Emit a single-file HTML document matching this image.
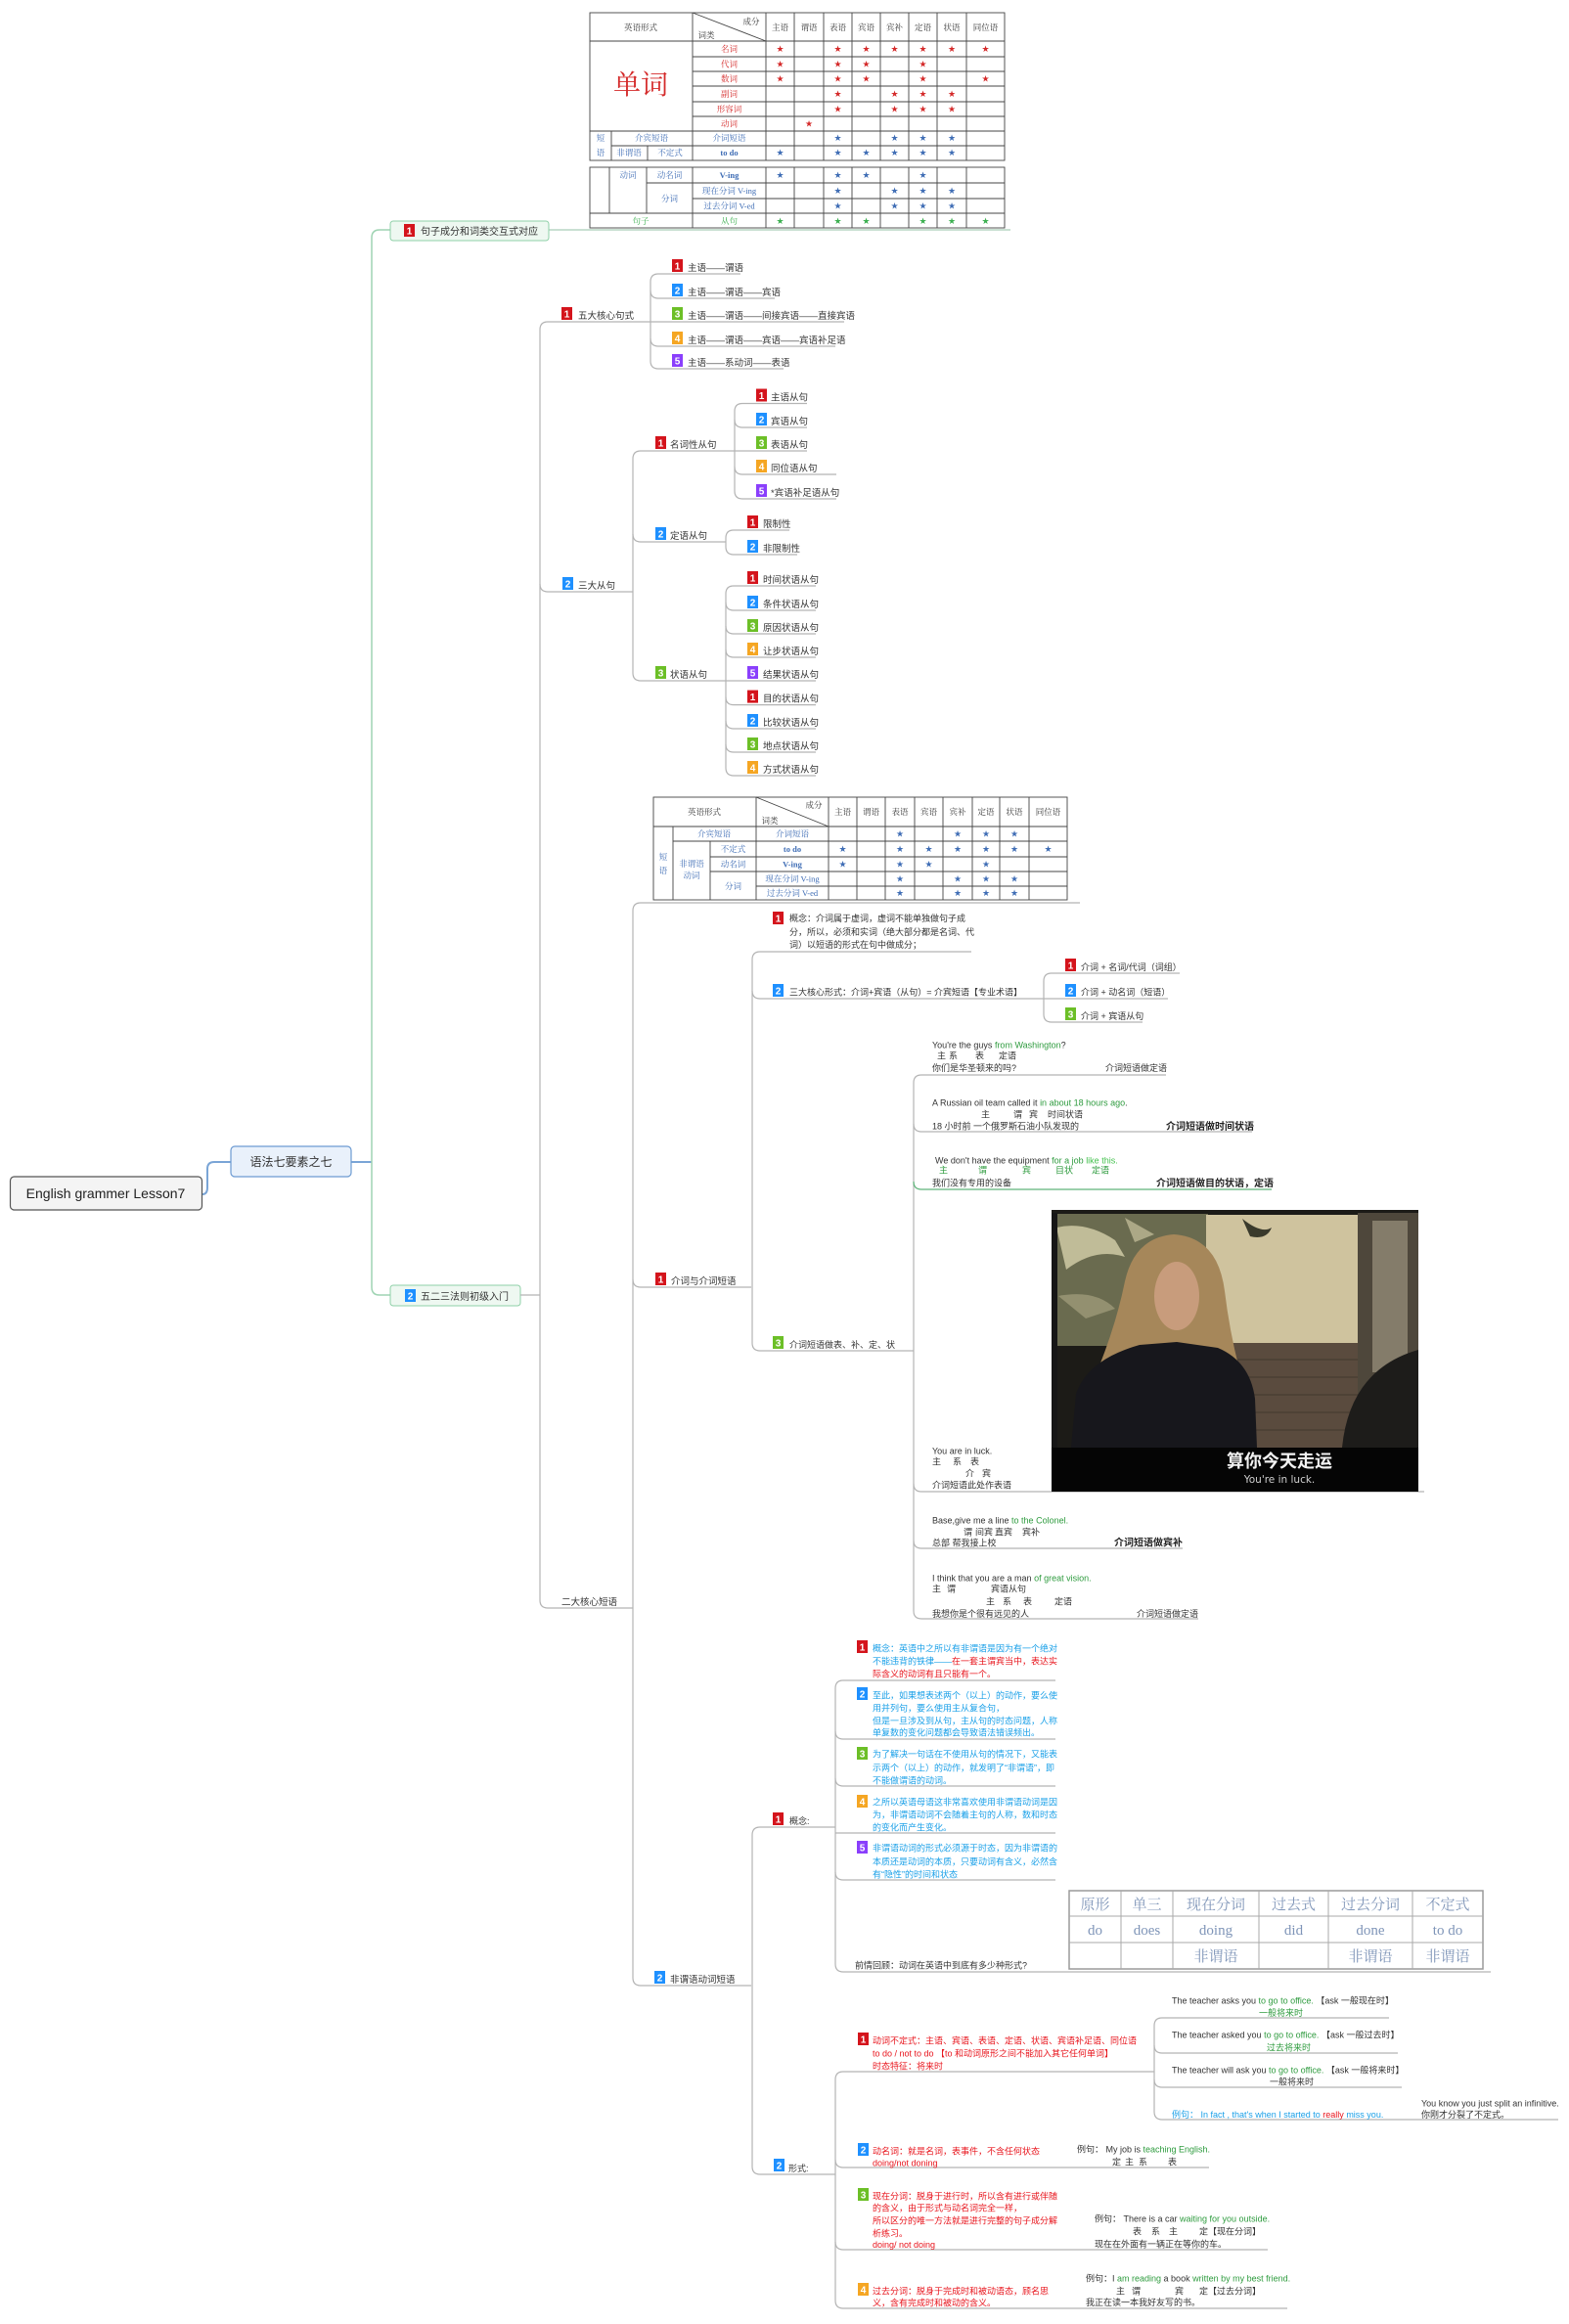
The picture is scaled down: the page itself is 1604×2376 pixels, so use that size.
<!DOCTYPE html>
<html><head><meta charset="utf-8"><style>
body{margin:0;background:#fff}
svg{display:block}
.t{font-family:"Liberation Sans","Noto Sans CJK SC",sans-serif;font-size:9.5px;fill:#333}
.s{font-family:"Liberation Sans","Noto Sans CJK SC",sans-serif;font-size:9px;fill:#333}
.b{font-family:"Liberation Sans","Noto Sans CJK SC",sans-serif;font-size:10px;font-weight:bold;fill:#222}
.bn{font-family:"Liberation Sans",sans-serif;font-size:10px;font-weight:bold;fill:#fff;text-anchor:middle}
.g{fill:#2e9b3e}.r{fill:#e8141c}.c{fill:#1aa0e8}.k{fill:#333}
.tb{font-family:"Liberation Serif","Noto Serif CJK SC",serif;font-size:8.5px;text-anchor:middle;fill:#333}
.tr{fill:#d42a2a}.tbl{fill:#3f6db5}.tg{fill:#3cb050}
.st{font-family:"DejaVu Sans",sans-serif;font-size:9px;text-anchor:middle}
.vf{font-family:"Liberation Serif","Noto Serif CJK SC",serif;font-size:15px;fill:#7f95b8;text-anchor:middle}
.ln{fill:none;stroke:#b4b4b4;stroke-width:1.2}
.gl{fill:none;stroke:#9fd4b3;stroke-width:1.5}
.grid{stroke:#444;stroke-width:0.9}
</style></head><body>
<svg width="1604" height="2376" viewBox="0 0 1604 2376" xmlns="http://www.w3.org/2000/svg">
<rect width="1604" height="2376" fill="#fff"/>

<!-- ================= TABLE 1 ================= -->
<g>
<rect x="603" y="13" width="424" height="151" fill="none" class="grid" stroke-width="1.4"/>
<g class="grid">
<line x1="708" y1="13" x2="708" y2="164"/><line x1="783" y1="13" x2="783" y2="164"/>
<line x1="812" y1="13" x2="812" y2="164"/><line x1="842" y1="13" x2="842" y2="164"/>
<line x1="871" y1="13" x2="871" y2="164"/><line x1="900" y1="13" x2="900" y2="164"/>
<line x1="929" y1="13" x2="929" y2="164"/><line x1="958" y1="13" x2="958" y2="164"/>
<line x1="988" y1="13" x2="988" y2="164"/>
<line x1="625" y1="134" x2="625" y2="164"/><line x1="662" y1="149" x2="662" y2="164"/>
<line x1="603" y1="42" x2="1027" y2="42"/>
<line x1="708" y1="58" x2="1027" y2="58"/><line x1="708" y1="73" x2="1027" y2="73"/>
<line x1="708" y1="88" x2="1027" y2="88"/><line x1="708" y1="104" x2="1027" y2="104"/>
<line x1="708" y1="119" x2="1027" y2="119"/>
<line x1="603" y1="134" x2="1027" y2="134"/><line x1="625" y1="149" x2="1027" y2="149"/>
<line x1="708" y1="13" x2="783" y2="42"/>
</g>
<text class="tb" x="655" y="31">英语形式</text>
<text class="tb" x="768" y="25">成分</text><text class="tb" x="722" y="39">词类</text>
<text class="tb" x="797.5" y="31">主语</text><text class="tb" x="827" y="31">谓语</text><text class="tb" x="856.5" y="31">表语</text><text class="tb" x="885.5" y="31">宾语</text><text class="tb" x="914.5" y="31">宾补</text><text class="tb" x="943.5" y="31">定语</text><text class="tb" x="973" y="31">状语</text><text class="tb" x="1007.5" y="31">同位语</text>
<text x="655" y="96" font-family="Liberation Serif,Noto Serif CJK SC,serif" font-size="28" fill="#d42a2a" text-anchor="middle">单词</text>
<text class="tb tr" x="745.5" y="53">名词</text><text class="tb tr" x="745.5" y="68.5">代词</text><text class="tb tr" x="745.5" y="83.5">数词</text><text class="tb tr" x="745.5" y="99">副词</text><text class="tb tr" x="745.5" y="114.5">形容词</text><text class="tb tr" x="745.5" y="129.5">动词</text>
<text class="tb tbl" x="614" y="144">短</text><text class="tb tbl" x="614" y="159">语</text>
<text class="tb tbl" x="666" y="144">介宾短语</text><text class="tb tbl" x="745.5" y="144">介词短语</text>
<text class="tb tbl" x="643" y="159">非谓语</text><text class="tb tbl" x="685" y="159">不定式</text><text class="tb tbl" x="745.5" y="159" font-weight="bold">to do</text>
<g class="st" fill="#d42a2a">
<text x="797.5" y="53">★</text><text x="856.5" y="53">★</text><text x="885.5" y="53">★</text><text x="914.5" y="53">★</text><text x="943.5" y="53">★</text><text x="973" y="53">★</text><text x="1007.5" y="53">★</text>
<text x="797.5" y="68.5">★</text><text x="856.5" y="68.5">★</text><text x="885.5" y="68.5">★</text><text x="943.5" y="68.5">★</text>
<text x="797.5" y="83.5">★</text><text x="856.5" y="83.5">★</text><text x="885.5" y="83.5">★</text><text x="943.5" y="83.5">★</text><text x="1007.5" y="83.5">★</text>
<text x="856.5" y="99">★</text><text x="914.5" y="99">★</text><text x="943.5" y="99">★</text><text x="973" y="99">★</text>
<text x="856.5" y="114.5">★</text><text x="914.5" y="114.5">★</text><text x="943.5" y="114.5">★</text><text x="973" y="114.5">★</text>
<text x="827" y="129.5">★</text>
</g>
<g class="st" fill="#3f6db5">
<text x="856.5" y="144">★</text><text x="914.5" y="144">★</text><text x="943.5" y="144">★</text><text x="973" y="144">★</text>
<text x="797.5" y="159">★</text><text x="856.5" y="159">★</text><text x="885.5" y="159">★</text><text x="914.5" y="159">★</text><text x="943.5" y="159">★</text><text x="973" y="159">★</text>
</g>
<!-- table 1b -->
<rect x="603" y="171" width="424" height="62" fill="none" class="grid" stroke-width="1.4"/>
<g class="grid">
<line x1="623" y1="171" x2="623" y2="218"/><line x1="661" y1="171" x2="661" y2="218"/>
<line x1="708" y1="171" x2="708" y2="233"/><line x1="783" y1="171" x2="783" y2="233"/>
<line x1="812" y1="171" x2="812" y2="233"/><line x1="842" y1="171" x2="842" y2="233"/>
<line x1="871" y1="171" x2="871" y2="233"/><line x1="900" y1="171" x2="900" y2="233"/>
<line x1="929" y1="171" x2="929" y2="233"/><line x1="958" y1="171" x2="958" y2="233"/>
<line x1="988" y1="171" x2="988" y2="233"/>
<line x1="661" y1="187" x2="1027" y2="187"/><line x1="708" y1="203" x2="1027" y2="203"/>
<line x1="603" y1="218" x2="1027" y2="218"/>
</g>
<text class="tb tbl" x="642" y="182">动词</text><text class="tb tbl" x="684.5" y="182">动名词</text>
<text class="tb tbl" x="684.5" y="206">分词</text>
<text class="tb tbl" x="745.5" y="182" font-weight="bold">V-ing</text>
<text class="tb tbl" x="745.5" y="198">现在分词 V-ing</text>
<text class="tb tbl" x="745.5" y="213.5">过去分词 V-ed</text>
<text class="tb tg" x="655" y="229">句子</text><text class="tb tg" x="745.5" y="229">从句</text>
<g class="st" fill="#3f6db5">
<text x="797.5" y="182">★</text><text x="856.5" y="182">★</text><text x="885.5" y="182">★</text><text x="943.5" y="182">★</text>
<text x="856.5" y="198">★</text><text x="914.5" y="198">★</text><text x="943.5" y="198">★</text><text x="973" y="198">★</text>
<text x="856.5" y="213.5">★</text><text x="914.5" y="213.5">★</text><text x="943.5" y="213.5">★</text><text x="973" y="213.5">★</text>
</g>
<g class="st" fill="#3cb050">
<text x="797.5" y="229">★</text><text x="856.5" y="229">★</text><text x="885.5" y="229">★</text><text x="943.5" y="229">★</text><text x="973" y="229">★</text><text x="1007.5" y="229">★</text>
</g>
</g>

<!-- ================= ROOT / LEVEL 1 ================= -->
<path d="M207,1221 Q212,1221 212,1214 L212,1195 Q212,1188 219,1188 L236,1188" fill="none" stroke="#7aa5d6" stroke-width="2"/>
<line x1="359" y1="1188" x2="380" y2="1188" stroke="#7aa5d6" stroke-width="2"/>
<rect x="10.5" y="1203" width="196" height="34" rx="4" fill="#f4f4f4" stroke="#555" stroke-width="1.2"/>
<text x="108" y="1225" font-family="Liberation Sans,sans-serif" font-size="14" fill="#222" text-anchor="middle">English grammer Lesson7</text>
<rect x="236" y="1172" width="123" height="31" rx="4" fill="#e9f1fb" stroke="#6d9bd2" stroke-width="1.2"/>
<text x="297.5" y="1192" font-family="Liberation Sans,Noto Sans CJK SC,sans-serif" font-size="12" fill="#333" text-anchor="middle">语法七要素之七</text>

<path class="gl" d="M399,235 L388,235 Q380,235 380,243 L380,1316 Q380,1324 388,1324 L399,1324"/>
<line x1="561" y1="235" x2="1033" y2="235" stroke="#a9cdb6" stroke-width="1.2"/>
<rect x="399" y="226" width="162" height="20" rx="3" fill="#eef8f1" stroke="#8fd0a8"/>
<rect x="413" y="229" width="11" height="13" fill="#d4141c"/><text class="bn" x="418.5" y="239.5">1</text>
<text x="430" y="240" font-family="Liberation Sans,Noto Sans CJK SC,sans-serif" font-size="10" fill="#333">句子成分和词类交互式对应</text>

<rect x="399" y="1314" width="133" height="21" rx="3" fill="#eef8f1" stroke="#8fd0a8"/>
<rect x="414" y="1318" width="11" height="13" fill="#1e90ff"/><text class="bn" x="419.5" y="1328.5">2</text>
<text x="430" y="1329" font-family="Liberation Sans,Noto Sans CJK SC,sans-serif" font-size="10" fill="#333">五二三法则初级入门</text>

<!-- ================= CONNECTORS ================= -->
<g class="ln">
<line x1="532" y1="1324" x2="552" y2="1324"/>
<path d="M560,329 Q552,329 552,337 L552,1636 Q552,1644 560,1644 L647,1644"/>
<line x1="560" y1="329" x2="863" y2="329"/>
<path d="M552,597 Q552,605 560,605 L647,605"/>
<path d="M757,280 L673,280 Q665,280 665,288 L665,369 Q665,377 673,377 L801,377"/>
<path d="M665,297 Q665,305 673,305 L792,305"/>
<path d="M665,346 Q665,354 673,354 L854,354"/>
<path d="M751,461 L655,461 Q647,461 647,469 L647,688 Q647,696 655,696 L742,696"/>
<path d="M647,546 Q647,554 655,554 L742,554"/>
<path d="M825,412.5 L759,412.5 Q751,412.5 751,420.5 L751,502 Q751,510 759,510 L855,510"/>
<path d="M751,429 Q751,437 759,437 L825,437"/>
<line x1="751" y1="461" x2="825" y2="461"/>
<path d="M751,477 Q751,485 759,485 L855,485"/>
<path d="M807,542 L750,542 Q742,542 742,550 L742,559 Q742,567 750,567 L815,567"/>
<path d="M834,599 L750,599 Q742,599 742,607 L742,785 Q742,793 750,793 L834,793"/>
<path d="M742,616 Q742,624 750,624 L834,624"/>
<path d="M742,640 Q742,648 750,648 L834,648"/>
<path d="M742,664 Q742,672 750,672 L834,672"/>
<line x1="742" y1="696" x2="834" y2="696"/>
<path d="M742,712.6 Q742,720.6 750,720.6 L834,720.6"/>
<path d="M742,737 Q742,745 750,745 L834,745"/>
<path d="M742,761 Q742,769 750,769 L834,769"/>
<path d="M1104,923 L655,923 Q647,923 647,931 L647,2022 Q647,2030 655,2030 L768,2030"/>
<path d="M647,1308 Q647,1316 655,1316 L768,1316"/>
<path d="M993,973 L777,973 Q769,973 769,981 L769,1373 Q769,1381 777,1381 L934,1381"/>
<path d="M769,1013 Q769,1021 777,1021 L1067,1021"/>
<path d="M1206,995 L1075,995 Q1067,995 1067,1003 L1067,1037 Q1067,1045 1075,1045 L1168,1045"/>
<line x1="1067" y1="1021" x2="1194" y2="1021"/>
<path d="M1192,1099 L942,1099 Q934,1099 934,1107 L934,1647 Q934,1655 942,1655 L1225,1655"/>
<path d="M934,1149 Q934,1157 942,1157 L1280,1157"/>
<path d="M934,1517 Q934,1525 942,1525 L1456,1525"/>
<path d="M934,1575 Q934,1583 942,1583 L1209,1583"/>
<path d="M854,1868 L777,1868 Q769,1868 769,1876 L769,2215 Q769,2223 777,2223 L854,2223"/>
<path d="M1079,1718 L862,1718 Q854,1718 854,1726 L854,2008 Q854,2016 862,2016 L1524,2016"/>
<path d="M854,1770 Q854,1778 862,1778 L1079,1778"/>
<path d="M854,1818 Q854,1826 862,1826 L1079,1826"/>
<line x1="854" y1="1874" x2="1079" y2="1874"/>
<path d="M854,1914 Q854,1922 862,1922 L1079,1922"/>
<path d="M1180,2118 L862,2118 Q854,2118 854,2126 L854,2352 Q854,2360 862,2360 L1316,2360"/>
<path d="M854,2208 Q854,2216 862,2216 L1236,2216"/>
<path d="M854,2292 Q854,2300 862,2300 L1296,2300"/>
<path d="M1420,2063 L1188,2063 Q1180,2063 1180,2071 L1180,2159 Q1180,2167 1188,2167 L1593,2167"/>
<path d="M1180,2091 Q1180,2099 1188,2099 L1429,2099"/>
<path d="M1180,2126 Q1180,2134 1188,2134 L1433,2134"/>
</g>
<path d="M934,1208 Q934,1216 942,1216 L1300,1216" fill="none" stroke="#5fb57a" stroke-width="1.2"/>

<!-- ================= LEVEL 2 NODES ================= -->
<rect x="574" y="314" width="11" height="13" fill="#d4141c"/><text class="bn" x="579.5" y="324.5">1</text>
<text class="t" x="591" y="326">五大核心句式</text>
<rect x="575" y="590" width="11" height="13" fill="#1e90ff"/><text class="bn" x="580.5" y="600.5">2</text>
<text class="t" x="591" y="602">三大从句</text>
<text class="t" x="574" y="1641">二大核心短语</text>

<rect x="687" y="265" width="11" height="13" fill="#d4141c"/><text class="bn" x="692.5" y="275.5">1</text><text class="t" x="703" y="277">主语——谓语</text>
<rect x="687" y="290" width="11" height="13" fill="#1e90ff"/><text class="bn" x="692.5" y="300.5">2</text><text class="t" x="703" y="302">主语——谓语——宾语</text>
<rect x="687" y="314" width="11" height="13" fill="#6cbf27"/><text class="bn" x="692.5" y="324.5">3</text><text class="t" x="703" y="326">主语——谓语——间接宾语——直接宾语</text>
<rect x="687" y="339" width="11" height="13" fill="#f5a623"/><text class="bn" x="692.5" y="349.5">4</text><text class="t" x="703" y="351">主语——谓语——宾语——宾语补足语</text>
<rect x="687" y="362" width="11" height="13" fill="#8a3ffc"/><text class="bn" x="692.5" y="372.5">5</text><text class="t" x="703" y="374">主语——系动词——表语</text>

<rect x="670" y="446" width="11" height="13" fill="#d4141c"/><text class="bn" x="675.5" y="456.5">1</text><text class="t" x="685" y="458">名词性从句</text>
<rect x="670" y="539" width="11" height="13" fill="#1e90ff"/><text class="bn" x="675.5" y="549.5">2</text><text class="t" x="685" y="551">定语从句</text>
<rect x="670" y="681" width="11" height="13" fill="#6cbf27"/><text class="bn" x="675.5" y="691.5">3</text><text class="t" x="685" y="693">状语从句</text>

<rect x="773" y="397.5" width="11" height="13" fill="#d4141c"/><text class="bn" x="778.5" y="408">1</text><text class="t" x="788" y="409.5">主语从句</text>
<rect x="773" y="422" width="11" height="13" fill="#1e90ff"/><text class="bn" x="778.5" y="432.5">2</text><text class="t" x="788" y="434">宾语从句</text>
<rect x="773" y="446" width="11" height="13" fill="#6cbf27"/><text class="bn" x="778.5" y="456.5">3</text><text class="t" x="788" y="458">表语从句</text>
<rect x="773" y="470" width="11" height="13" fill="#f5a623"/><text class="bn" x="778.5" y="480.5">4</text><text class="t" x="788" y="482">同位语从句</text>
<rect x="773" y="495" width="11" height="13" fill="#8a3ffc"/><text class="bn" x="778.5" y="505.5">5</text><text class="t" x="788" y="507">*宾语补足语从句</text>

<rect x="764" y="527" width="11" height="13" fill="#d4141c"/><text class="bn" x="769.5" y="537.5">1</text><text class="t" x="780" y="539">限制性</text>
<rect x="764" y="552" width="11" height="13" fill="#1e90ff"/><text class="bn" x="769.5" y="562.5">2</text><text class="t" x="780" y="564">非限制性</text>

<rect x="764" y="584" width="11" height="13" fill="#d4141c"/><text class="bn" x="769.5" y="594.5">1</text><text class="t" x="780" y="596">时间状语从句</text>
<rect x="764" y="609" width="11" height="13" fill="#1e90ff"/><text class="bn" x="769.5" y="619.5">2</text><text class="t" x="780" y="621">条件状语从句</text>
<rect x="764" y="633" width="11" height="13" fill="#6cbf27"/><text class="bn" x="769.5" y="643.5">3</text><text class="t" x="780" y="645">原因状语从句</text>
<rect x="764" y="657" width="11" height="13" fill="#f5a623"/><text class="bn" x="769.5" y="667.5">4</text><text class="t" x="780" y="669">让步状语从句</text>
<rect x="764" y="681" width="11" height="13" fill="#8a3ffc"/><text class="bn" x="769.5" y="691.5">5</text><text class="t" x="780" y="693">结果状语从句</text>
<rect x="764" y="705.6" width="11" height="13" fill="#d4141c"/><text class="bn" x="769.5" y="716">1</text><text class="t" x="780" y="717.6">目的状语从句</text>
<rect x="764" y="730" width="11" height="13" fill="#1e90ff"/><text class="bn" x="769.5" y="740.5">2</text><text class="t" x="780" y="742">比较状语从句</text>
<rect x="764" y="754" width="11" height="13" fill="#6cbf27"/><text class="bn" x="769.5" y="764.5">3</text><text class="t" x="780" y="766">地点状语从句</text>
<rect x="764" y="778" width="11" height="13" fill="#f5a623"/><text class="bn" x="769.5" y="788.5">4</text><text class="t" x="780" y="790">方式状语从句</text>

<!-- ================= TABLE 2 ================= -->
<g>
<rect x="668" y="815" width="423" height="105" fill="none" class="grid" stroke-width="1.4"/>
<g class="grid">
<line x1="688" y1="845" x2="688" y2="920"/><line x1="726" y1="860" x2="726" y2="920"/>
<line x1="773" y1="815" x2="773" y2="920"/><line x1="847" y1="815" x2="847" y2="920"/>
<line x1="876" y1="815" x2="876" y2="920"/><line x1="905" y1="815" x2="905" y2="920"/>
<line x1="935" y1="815" x2="935" y2="920"/><line x1="964" y1="815" x2="964" y2="920"/>
<line x1="994" y1="815" x2="994" y2="920"/><line x1="1022" y1="815" x2="1022" y2="920"/>
<line x1="1052" y1="815" x2="1052" y2="920"/>
<line x1="668" y1="845" x2="1091" y2="845"/><line x1="688" y1="860" x2="1091" y2="860"/>
<line x1="726" y1="876" x2="1091" y2="876"/><line x1="726" y1="891" x2="1091" y2="891"/>
<line x1="773" y1="906" x2="1091" y2="906"/>
<line x1="773" y1="815" x2="847" y2="845"/>
</g>
<text class="tb" x="720" y="833">英语形式</text>
<text class="tb" x="832" y="826">成分</text><text class="tb" x="787" y="842">词类</text>
<text class="tb" x="861.5" y="833">主语</text><text class="tb" x="890.5" y="833">谓语</text><text class="tb" x="920" y="833">表语</text><text class="tb" x="949.5" y="833">宾语</text><text class="tb" x="979" y="833">宾补</text><text class="tb" x="1008" y="833">定语</text><text class="tb" x="1037" y="833">状语</text><text class="tb" x="1071.5" y="833">同位语</text>
<text class="tb tbl" x="678" y="879">短</text><text class="tb tbl" x="678" y="893">语</text>
<text class="tb tbl" x="730" y="855.5">介宾短语</text><text class="tb tbl" x="810" y="855.5">介词短语</text>
<text class="tb tbl" x="707" y="886">非谓语</text><text class="tb tbl" x="707" y="898">动词</text>
<text class="tb tbl" x="749.5" y="871">不定式</text><text class="tb tbl" x="749.5" y="886.5">动名词</text><text class="tb tbl" x="749.5" y="909">分词</text>
<text class="tb tbl" x="810" y="871" font-weight="bold">to do</text><text class="tb tbl" x="810" y="886.5" font-weight="bold">V-ing</text>
<text class="tb tbl" x="810" y="901.5">现在分词 V-ing</text><text class="tb tbl" x="810" y="916">过去分词 V-ed</text>
<g class="st" fill="#3f6db5">
<text x="920" y="855.5">★</text><text x="979" y="855.5">★</text><text x="1008" y="855.5">★</text><text x="1037" y="855.5">★</text>
<text x="861.5" y="871">★</text><text x="920" y="871">★</text><text x="949.5" y="871">★</text><text x="979" y="871">★</text><text x="1008" y="871">★</text><text x="1037" y="871">★</text><text x="1071.5" y="871">★</text>
<text x="861.5" y="886.5">★</text><text x="920" y="886.5">★</text><text x="949.5" y="886.5">★</text><text x="1008" y="886.5">★</text>
<text x="920" y="901.5">★</text><text x="979" y="901.5">★</text><text x="1008" y="901.5">★</text><text x="1037" y="901.5">★</text>
<text x="920" y="916">★</text><text x="979" y="916">★</text><text x="1008" y="916">★</text><text x="1037" y="916">★</text>
</g>
</g>

<!-- ================= 介词与介词短语 ================= -->
<rect x="670" y="1301" width="11" height="13" fill="#d4141c"/><text class="bn" x="675.5" y="1311.5">1</text><text class="t" x="686" y="1313">介词与介词短语</text>
<rect x="669" y="2015" width="11" height="13" fill="#1e90ff"/><text class="bn" x="674.5" y="2025.5">2</text><text class="t" x="685" y="2027">非谓语动词短语</text>

<rect x="790" y="932" width="11" height="13" fill="#d4141c"/><text class="bn" x="795.5" y="942.5">1</text>
<text class="s" x="807" y="942">概念：介词属于虚词，虚词不能单独做句子成</text>
<text class="s" x="807" y="956">分，所以，必须和实词（绝大部分都是名词、代</text>
<text class="s" x="807" y="969">词）以短语的形式在句中做成分；</text>
<rect x="790" y="1006" width="11" height="13" fill="#1e90ff"/><text class="bn" x="795.5" y="1016.5">2</text>
<text class="s" x="807" y="1017.5">三大核心形式：介词+宾语（从句）= 介宾短语【专业术语】</text>
<rect x="1089" y="980" width="11" height="13" fill="#d4141c"/><text class="bn" x="1094.5" y="990.5">1</text><text class="s" x="1105" y="992">介词 + 名词/代词（词组）</text>
<rect x="1089" y="1006" width="11" height="13" fill="#1e90ff"/><text class="bn" x="1094.5" y="1016.5">2</text><text class="s" x="1105" y="1017.5">介词 + 动名词（短语）</text>
<rect x="1089" y="1030" width="11" height="13" fill="#6cbf27"/><text class="bn" x="1094.5" y="1040.5">3</text><text class="s" x="1105" y="1042">介词 + 宾语从句</text>
<rect x="790" y="1366" width="11" height="13" fill="#6cbf27"/><text class="bn" x="795.5" y="1376.5">3</text>
<text class="s" x="807" y="1378">介词短语做表、补、定、状</text>

<text class="s" x="953" y="1071.5">You're the guys <tspan class="g">from Washington</tspan>?</text>
<text class="s" y="1082.5"><tspan x="958">主</tspan><tspan x="970">系</tspan><tspan x="997">表</tspan><tspan x="1021">定语</tspan></text>
<text class="s" x="953" y="1095">你们是华圣顿来的吗?</text>
<text class="s" x="1130" y="1095">介词短语做定语</text>

<text class="s" x="953" y="1130.5">A Russian oil team called it <tspan class="g">in about 18 hours ago</tspan>.</text>
<text class="s" y="1142.5"><tspan x="1003">主</tspan><tspan x="1036">谓</tspan><tspan x="1052">宾</tspan><tspan x="1071">时间状语</tspan></text>
<text class="s" x="953" y="1154.5">18 小时前 一个俄罗斯石油小队发现的</text>
<text class="b" x="1192" y="1155">介词短语做时间状语</text>

<text class="s" x="956" y="1189.5">We don't have the equipment <tspan class="g">for a job</tspan> <tspan fill="#45c24f">like this.</tspan></text>
<text class="s g" y="1199.5"><tspan x="960">主</tspan><tspan x="1000">谓</tspan><tspan x="1045">宾</tspan><tspan x="1079">目状</tspan><tspan x="1116">定语</tspan></text>
<text class="s" x="953" y="1212.5">我们没有专用的设备</text>
<text class="b" x="1182" y="1213">介词短语做目的状语，定语</text>

<!-- image -->
<g>
<rect x="1075" y="1237" width="375" height="288" fill="#1c1b17"/>
<rect x="1077" y="1241" width="158" height="135" fill="#6a6b4f"/>
<path d="M1080,1255 Q1110,1248 1140,1268 L1150,1285 Q1120,1275 1090,1298 Z" fill="#c0bc98"/>
<path d="M1082,1325 Q1120,1318 1140,1338 L1110,1348 Z" fill="#939070"/>
<path d="M1150,1245 L1180,1262 L1160,1270 Z" fill="#aca886"/>
<rect x="1233" y="1242" width="155" height="131" fill="#cfc39e"/>
<path d="M1270,1246 Q1290,1262 1300,1255 Q1295,1268 1278,1264 Z" fill="#3a3a2c"/>
<rect x="1233" y="1373" width="170" height="107" fill="#5a4b3e"/>
<g stroke="#43382e" stroke-width="1">
<line x1="1233" y1="1390" x2="1403" y2="1390"/><line x1="1233" y1="1408" x2="1403" y2="1408"/><line x1="1233" y1="1426" x2="1403" y2="1426"/><line x1="1233" y1="1444" x2="1403" y2="1444"/><line x1="1233" y1="1462" x2="1403" y2="1462"/>
</g>
<rect x="1388" y="1240" width="62" height="240" fill="#4e473b"/>
<rect x="1403" y="1248" width="36" height="155" fill="#847c6a"/>
<path d="M1372,1480 Q1380,1400 1450,1380 L1450,1480 Z" fill="#1d1c1a"/>
<rect x="1075" y="1240" width="6" height="240" fill="#161616"/>
<path d="M1200,1262 Q1160,1265 1150,1310 Q1138,1370 1105,1440 L1125,1450 Q1150,1410 1165,1380 L1240,1380 Q1252,1405 1262,1425 L1272,1418 Q1258,1370 1252,1320 Q1245,1265 1200,1262 Z" fill="#a6875a"/>
<ellipse cx="1203" cy="1325" rx="23" ry="35" fill="#c89c7c"/>
<path d="M1095,1480 L1100,1425 Q1112,1390 1165,1375 L1203,1372 L1245,1378 Q1278,1392 1283,1430 L1285,1480 Z" fill="#17171c"/>
<rect x="1075" y="1480" width="375" height="45" fill="#050505"/>
<text x="1308" y="1500" font-family="Noto Sans CJK SC,WenQuanYi Zen Hei,sans-serif" font-size="18" font-weight="bold" fill="#f2f2f2" text-anchor="middle">算你今天走运</text>
<text x="1308" y="1516" font-family="DejaVu Sans,Liberation Sans,sans-serif" font-size="10.5" fill="#cfcfcf" text-anchor="middle">You're in luck.</text>
</g>

<text class="s" x="953" y="1486.5">You  are in luck.</text>
<text class="s" y="1497.5"><tspan x="953">主</tspan><tspan x="974">系</tspan><tspan x="992">表</tspan></text>
<text class="s" y="1509.5"><tspan x="987">介</tspan><tspan x="1004">宾</tspan></text>
<text class="s" x="953" y="1521.5">介词短语此处作表语</text>

<text class="s" x="953" y="1557.5">Base,give  me   a line <tspan class="g">to the Colonel.</tspan></text>
<text class="s" y="1569.5"><tspan x="985">谓</tspan><tspan x="997">间宾</tspan><tspan x="1017">直宾</tspan><tspan x="1045">宾补</tspan></text>
<text class="s" x="953" y="1580.5">总部 帮我接上校</text>
<text class="b" x="1139" y="1580.5">介词短语做宾补</text>

<text class="s" x="953" y="1616.5">I  think  that you are a man <tspan class="g">of great vision.</tspan></text>
<text class="s" y="1627.5"><tspan x="953">主</tspan><tspan x="968">谓</tspan><tspan x="1013">宾语从句</tspan></text>
<text class="s" y="1640.5"><tspan x="1008">主</tspan><tspan x="1025">系</tspan><tspan x="1046">表</tspan><tspan x="1078">定语</tspan></text>
<text class="s" x="953" y="1653">我想你是个很有远见的人</text>
<text class="s" x="1162" y="1653">介词短语做定语</text>

<!-- ================= 非谓语 ================= -->
<rect x="790" y="1853" width="11" height="13" fill="#d4141c"/><text class="bn" x="795.5" y="1863.5">1</text><text class="s" x="807" y="1865">概念:</text>

<rect x="876" y="1677" width="11" height="13" fill="#d4141c"/><text class="bn" x="881.5" y="1687.5">1</text>
<text class="s c" x="892" y="1688.5">概念：英语中之所以有非谓语是因为有一个绝对</text>
<text class="s" x="892" y="1701.5"><tspan class="c">不能违背的铁律——</tspan><tspan class="r">在一套主谓宾当中，表达实</tspan></text>
<text class="s r" x="892" y="1714.5">际含义的动词有且只能有一个。</text>

<rect x="876" y="1725" width="11" height="13" fill="#1e90ff"/><text class="bn" x="881.5" y="1735.5">2</text>
<text class="s c" x="892" y="1736.5">至此，如果想表述两个（以上）的动作，要么使</text>
<text class="s c" x="892" y="1749.5">用并列句，要么使用主从复合句，</text>
<text class="s c" x="892" y="1762.5">但是一旦涉及到从句，主从句的时态问题，人称</text>
<text class="s c" x="892" y="1774.5">单复数的变化问题都会导致语法错误频出。</text>

<rect x="876" y="1786" width="11" height="13" fill="#6cbf27"/><text class="bn" x="881.5" y="1796.5">3</text>
<text class="s c" x="892" y="1796.5">为了解决一句话在不使用从句的情况下，又能表</text>
<text class="s c" x="892" y="1810.5">示两个（以上）的动作，就发明了“非谓语”，即</text>
<text class="s c" x="892" y="1823.5">不能做谓语的动词。</text>

<rect x="876" y="1835" width="11" height="13" fill="#f5a623"/><text class="bn" x="881.5" y="1845.5">4</text>
<text class="s c" x="892" y="1845.5">之所以英语母语这非常喜欢使用非谓语动词是因</text>
<text class="s c" x="892" y="1858.5">为，非谓语动词不会随着主句的人称，数和时态</text>
<text class="s c" x="892" y="1871.5">的变化而产生变化。</text>

<rect x="876" y="1882" width="11" height="13" fill="#8a3ffc"/><text class="bn" x="881.5" y="1892.5">5</text>
<text class="s c" x="892" y="1892.5">非谓语动词的形式必须源于时态，因为非谓语的</text>
<text class="s c" x="892" y="1906.5">本质还是动词的本质，只要动词有含义，必然含</text>
<text class="s c" x="892" y="1919.5">有“隐性”的时间和状态</text>

<text class="s" x="874" y="2012.5">前情回顾：动词在英语中到底有多少种形式?</text>

<g>
<rect x="1093" y="1933" width="423" height="80" fill="#fff" stroke="#9a9a9a" stroke-width="1.5"/>
<g stroke="#aaa" stroke-width="1">
<line x1="1146" y1="1933" x2="1146" y2="2013"/><line x1="1199" y1="1933" x2="1199" y2="2013"/>
<line x1="1287" y1="1933" x2="1287" y2="2013"/><line x1="1358" y1="1933" x2="1358" y2="2013"/>
<line x1="1444" y1="1933" x2="1444" y2="2013"/>
<line x1="1093" y1="1959" x2="1516" y2="1959"/><line x1="1093" y1="1986" x2="1516" y2="1986"/>
</g>
<text class="vf" x="1119.5" y="1952">原形</text><text class="vf" x="1172.5" y="1952">单三</text><text class="vf" x="1243" y="1952">现在分词</text><text class="vf" x="1322.5" y="1952">过去式</text><text class="vf" x="1401" y="1952">过去分词</text><text class="vf" x="1480" y="1952">不定式</text>
<text class="vf" x="1119.5" y="1978">do</text><text class="vf" x="1172.5" y="1978">does</text><text class="vf" x="1243" y="1978">doing</text><text class="vf" x="1322.5" y="1978">did</text><text class="vf" x="1401" y="1978">done</text><text class="vf" x="1480" y="1978">to do</text>
<text class="vf" x="1243" y="2005" fill="#b0bccd">非谓语</text><text class="vf" x="1401" y="2005" fill="#b0bccd">非谓语</text><text class="vf" x="1480" y="2005" fill="#b0bccd">非谓语</text>
</g>

<rect x="791" y="2207" width="11" height="13" fill="#1e90ff"/><text class="bn" x="796.5" y="2217.5">2</text><text class="s" x="806" y="2220">形式:</text>

<rect x="877" y="2078" width="11" height="13" fill="#d4141c"/><text class="bn" x="882.5" y="2088.5">1</text>
<text class="s r" x="892" y="2089.5">动词不定式：主语、宾语、表语、定语、状语、宾语补足语、同位语</text>
<text class="s r" x="892" y="2102.5">to do / not to do 【to 和动词原形之间不能加入其它任何单词】</text>
<text class="s r" x="892" y="2115.5">时态特征：将来时</text>

<text class="s" x="1198" y="2048.5">The teacher asks you <tspan class="g">to go to office.</tspan> 【ask 一般现在时】</text>
<text class="s g" x="1287" y="2061">一般将来时</text>
<text class="s" x="1198" y="2083.5">The teacher asked you <tspan class="g">to go to office.</tspan> 【ask 一般过去时】</text>
<text class="s g" x="1295" y="2096.5">过去将来时</text>
<text class="s" x="1198" y="2119.5">The teacher will ask you <tspan class="g">to go to office.</tspan> 【ask 一般将来时】</text>
<text class="s" x="1298" y="2131.5">一般将来时</text>
<text class="s c" x="1198" y="2165">例句：  In fact , that's when I started to <tspan class="r">really</tspan> miss you.</text>
<text class="s" x="1453" y="2153.5">You know you just split an infinitive.</text>
<text class="s" x="1453" y="2165">你刚才分裂了不定式。</text>

<rect x="877" y="2191" width="11" height="13" fill="#1e90ff"/><text class="bn" x="882.5" y="2201.5">2</text>
<text class="s r" x="892" y="2202.5">动名词：就是名词，表事件，不含任何状态</text>
<text class="s r" x="892" y="2214.5">doing/not doning</text>
<text class="s" x="1101" y="2200.5">例句：  My job is <tspan class="g">teaching English.</tspan></text>
<text class="s" y="2213.5"><tspan x="1137">定</tspan><tspan x="1150">主</tspan><tspan x="1164">系</tspan><tspan x="1194">表</tspan></text>

<rect x="877" y="2237" width="11" height="13" fill="#6cbf27"/><text class="bn" x="882.5" y="2247.5">3</text>
<text class="s r" x="892" y="2248.5">现在分词：脱身于进行时，所以含有进行或伴随</text>
<text class="s r" x="892" y="2260.5">的含义，由于形式与动名词完全一样，</text>
<text class="s r" x="892" y="2273.5">所以区分的唯一方法就是进行完整的句子成分解</text>
<text class="s r" x="892" y="2286.5">析练习。</text>
<text class="s r" x="892" y="2298">doing/ not doing</text>
<text class="s" x="1119" y="2271.5">例句：  There is a car <tspan class="g">waiting for you outside.</tspan></text>
<text class="s" y="2284.5"><tspan x="1158">表</tspan><tspan x="1177">系</tspan><tspan x="1195">主</tspan><tspan x="1226">定【现在分词】</tspan></text>
<text class="s" x="1119" y="2297.5">现在在外面有一辆正在等你的车。</text>

<rect x="877" y="2334" width="11" height="13" fill="#f5a623"/><text class="bn" x="882.5" y="2344.5">4</text>
<text class="s r" x="892" y="2345.5">过去分词：脱身于完成时和被动语态，顾名思</text>
<text class="s r" x="892" y="2357.5">义，含有完成时和被动的含义。</text>
<text class="s" x="1110" y="2332.5">例句：I <tspan class="g">am reading</tspan> a book <tspan class="g">written by my best friend.</tspan></text>
<text class="s" y="2345.5"><tspan x="1141">主</tspan><tspan x="1157">谓</tspan><tspan x="1201">宾</tspan><tspan x="1226">定【过去分词】</tspan></text>
<text class="s" x="1110" y="2357">我正在读一本我好友写的书。</text>

</svg>
</body></html>
